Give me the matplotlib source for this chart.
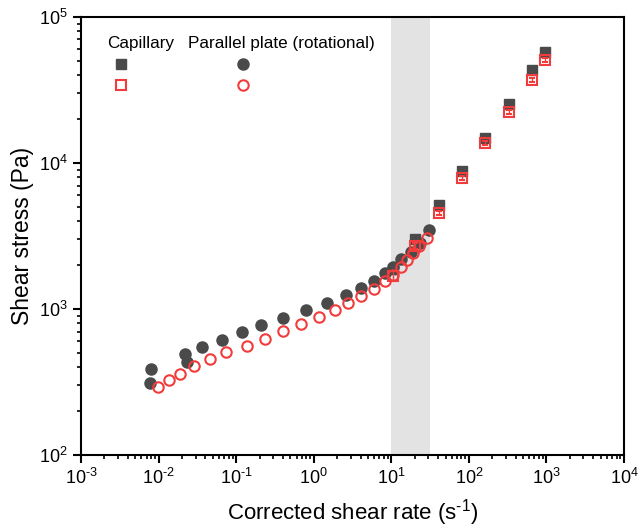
import numpy as np
import matplotlib.pyplot as plt
from matplotlib.ticker import LogLocator, NullFormatter, FixedLocator, FuncFormatter

plt.rcParams['font.family'] = ['Liberation Sans', 'DejaVu Sans']
plt.rcParams['mathtext.fontset'] = 'custom'
plt.rcParams['mathtext.rm'] = 'Liberation Sans'
plt.rcParams['mathtext.it'] = 'Liberation Sans:italic'

# parallel plate, sample 1 (filled dark circles)
pp1_rate = [0.0079, 0.0078, 0.0221, 0.0234, 0.036, 0.066, 0.119, 0.209, 0.402, 0.789,
            1.50, 2.61, 4.11, 5.93, 8.30, 10.6, 13.3, 17.8, 23.4, 30.9]
pp1_stress = [388, 310, 490, 435, 547, 613, 692, 773, 872, 980,
              1100, 1240, 1386, 1556, 1757, 1950, 2200, 2470, 2830, 3450]

# parallel plate, sample 2 (open red circles)
pp2_rate = [0.0099, 0.0135, 0.0189, 0.0287, 0.046, 0.0739, 0.137, 0.233, 0.398, 0.679,
            1.17, 1.90, 2.79, 4.03, 6.04, 8.30, 10.6, 13.2, 15.8, 18.9, 23.0, 29.1]
pp2_stress = [291, 325, 361, 405, 452, 505, 561, 626, 703, 786,
              877, 980, 1094, 1228, 1377, 1543, 1695, 1925, 2148, 2408, 2700, 3050]

# capillary, sample 1 (filled dark squares)
cap1_rate = [10.5, 20.2, 41.2, 81.6, 161.6, 329, 652, 959]
cap1_stress = [1880, 3020, 5150, 8810, 14800, 25400, 43400, 57600]
cap1_err = [140, 120, 150, 250, 400, 700, 1200, 1500]

# capillary, sample 2 (open red squares)
cap2_rate = [10.5, 20.2, 41.2, 81.6, 161.6, 329, 652, 959]
cap2_stress = [1680, 2700, 4550, 7890, 13700, 22400, 37000, 50800]
cap2_err = [130, 110, 150, 250, 400, 650, 1100, 1500]

# shaded band
band = (10, 31.6)

x_major = [1e-3, 1e-2, 1e-1, 1e0, 1e1, 1e2, 1e3, 1e4]
y_major = [1e2, 1e3, 1e4, 1e5]

dark = '#4a4a4a'
red = '#f23c3c'
HY = '\u2010'  # short hyphen like the original labels


def pow_label(v, pos):
    e = int(round(np.log10(v)))
    s = str(e).replace('-', HY)
    return '$10^{%s}$' % s


fig = plt.figure(figsize=(6.44, 5.26), dpi=100)
ax = fig.add_axes([0.126, 0.135, 0.843, 0.833])

ax.axvspan(band[0], band[1], color='#e3e3e3', lw=0, zorder=0)

ax.plot(pp1_rate, pp1_stress, 'o', color=dark, ms=8, mec=dark, zorder=3)
ax.plot(pp2_rate, pp2_stress, 'o', mfc='none', mec=red, mew=1.5, ms=7.5, zorder=4)
ax.errorbar(cap1_rate, cap1_stress, yerr=cap1_err, fmt='s', color=dark, ms=7.5,
            capsize=2.5, elinewidth=1, zorder=3)
ax.errorbar(cap2_rate, cap2_stress, yerr=cap2_err, fmt='s', color=red, mfc='none',
            mew=1.5, ms=7, capsize=2.5, elinewidth=1, zorder=4)

ax.set_xscale('log')
ax.set_yscale('log')
ax.set_xlim(1e-3, 1e4)
ax.set_ylim(1e2, 1e5)
ax.xaxis.set_major_locator(FixedLocator(x_major))
ax.yaxis.set_major_locator(FixedLocator(y_major))
ax.xaxis.set_major_formatter(FuncFormatter(pow_label))
ax.yaxis.set_major_formatter(FuncFormatter(pow_label))
ax.xaxis.set_minor_locator(LogLocator(base=10, subs=np.arange(2, 10), numticks=100))
ax.yaxis.set_minor_locator(LogLocator(base=10, subs=np.arange(2, 10), numticks=100))
ax.xaxis.set_minor_formatter(NullFormatter())
ax.yaxis.set_minor_formatter(NullFormatter())

for s in ax.spines.values():
    s.set_linewidth(1.5)
ax.tick_params(which='major', direction='out', length=6, width=1.5, labelsize=13,
               top=False, right=False)
ax.tick_params(which='minor', direction='out', length=3, width=1.2, top=False, right=False)

ax.set_xlabel('Corrected shear rate (s$^{%s1}$)' % HY, fontsize=16, labelpad=6)
ax.set_ylabel('Shear stress (Pa)', fontsize=16.5, labelpad=4)

# custom legend block
ax.text(0.048, 0.94, 'Capillary', transform=ax.transAxes, fontsize=12.3, va='center')
ax.text(0.197, 0.94, 'Parallel plate (rotational)', transform=ax.transAxes, fontsize=12.3,
        va='center')
ax.plot([0.073], [0.892], 's', color=dark, ms=7.5, transform=ax.transAxes)
ax.plot([0.073], [0.844], 's', mfc='none', mec=red, mew=1.5, ms=7, transform=ax.transAxes)
ax.plot([0.298], [0.892], 'o', color=dark, ms=8, transform=ax.transAxes)
ax.plot([0.298], [0.844], 'o', mfc='none', mec=red, mew=1.5, ms=7.5, transform=ax.transAxes)

fig.savefig('out.png', dpi=100)
